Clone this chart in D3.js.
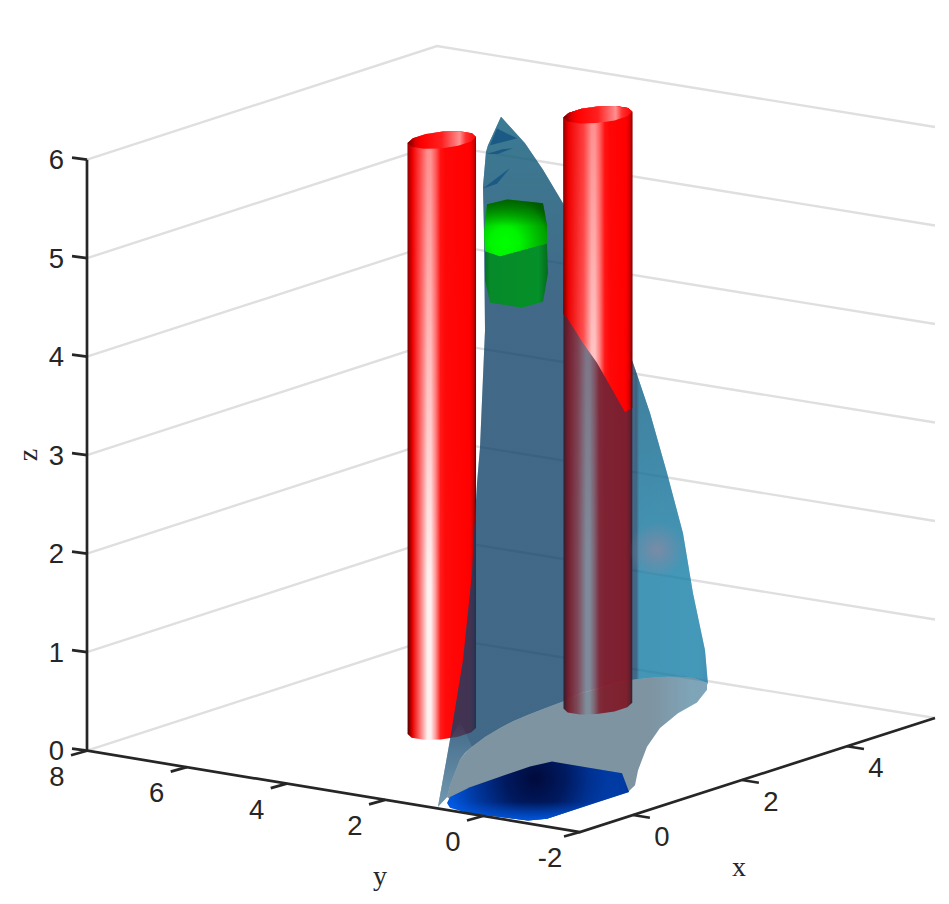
<!DOCTYPE html>
<html><head><meta charset="utf-8">
<style>html,body{margin:0;padding:0;background:#fff}svg{display:block}
.tick{font-family:"Liberation Sans",Arial,sans-serif;font-size:27.5px;fill:#262626}
.lab{font-family:"Liberation Serif","Times New Roman",serif;font-size:28px;fill:#262626}</style>
<script src="https://cdn.jsdelivr.net/npm/d3@7"></script>
</head><body><svg id="chart" width="949" height="904"></svg>
<script>
// ---- axes ----
const xTicks = [0, 2, 4];
const yTicks = [8, 6, 4, 2, 0, -2];
const zTicks = [0, 1, 2, 3, 4, 5, 6];
// ---- cylinders: axis position, radius, height ----
const cylinderX = [2, 4];
const cylinderY = [4.1, 3.06];
const cylinderRadius = [0.47, 0.48];
const cylinderZ = [0, 6];
// ---- isosurface silhouette, read as (h, z) on a view plane facing the camera ----
const hornRightH = [8.28,8.76,9.12,9.52,10.26,10.92,11.26,11.60,11.92,12.12,12.36,12.42];
const hornRightZ = [6.44,6.17,5.90,5.56,4.78,3.94,3.43,2.82,2.21,1.60,1.02,0.67];
const hornBottomH = [12.40,12.20,11.82,11.46,11.20,11.02,10.96,10.82,9.20,8.82,7.60,7.02];
const hornBottomZ = [0.62,0.49,0.38,0.23,0.04,-0.20,-0.35,-0.42,-0.69,-0.71,-0.63,-0.57];
const hornLeftH = [7.26,7.52,7.70,7.80,7.86,7.90,7.96,7.94,7.92,7.98,8.02];
const hornLeftZ = [0.11,0.92,1.80,2.72,3.08,3.56,4.27,5.26,5.73,6.08,6.15];
const rimH = [12.40,12.12,11.86,11.60,11.26,10.92,10.58,10.26,9.86,9.52,9.16,8.80,8.52,8.26,7.96,7.70,7.56,7.46,7.36,7.26,7.20];
const rimZ = [0.69,0.74,0.75,0.75,0.74,0.72,0.69,0.64,0.58,0.50,0.43,0.36,0.30,0.23,0.14,0.04,-0.02,-0.09,-0.22,-0.35,-0.47];
// lighter sliver between silhouette and rim, near the lower tip
const sliverH = [7.02,7.26,7.46,7.70,7.46,7.36,7.26,7.20];
const sliverZ = [-0.57,0.11,0.30,0.04,-0.09,-0.22,-0.35,-0.47];
// dark creases near the tip
const creaseH = [[8.20,8.06,8.60],[8.00,8.30,8.52,8.22],[7.92,8.46,8.20]];
const creaseZ = [[6.32,6.15,6.22],[6.06,6.11,6.12,6.06],[5.71,5.92,5.76]];
// green blob
const greenTopH = [8.00,8.40,9.12,9.20,9.20,8.26,7.96,7.94];
const greenTopZ = [5.55,5.60,5.56,5.34,5.15,5.02,5.07,5.26];
const greenLowH = [7.96,8.26,9.20,9.22,9.12,8.70,8.06,7.96];
const greenLowZ = [5.07,5.02,5.15,4.85,4.56,4.50,4.55,4.78];
// blue blob
const blueH = [7.20,7.26,7.66,8.86,9.30,10.70,10.84,9.20,8.82,7.60,7.26];
const blueZ = [-0.53,-0.47,-0.37,-0.16,-0.11,-0.23,-0.42,-0.69,-0.71,-0.63,-0.58];
// where the second cylinder pierces the surface
const pierceH = [9.46,11.06,11.06,10.92,10.76,10.20,9.92,9.60,9.46];
const pierceZ = [6.61,6.61,3.48,3.48,3.44,3.94,4.14,4.40,4.46];

// ---- scales ----
const scaleU = d3.scaleLinear().domain([-1,0,2,4,5.7]).range([0,0.149,0.456,0.752,1]);
const scaleV = d3.scaleLinear().domain([8,6,4,2,0,-2]).range([0,0.2023,0.4051,0.6045,0.8032,1]);
const scaleZ = d3.scaleLinear().domain([0,6]).range([0,591]);
const scaleH = d3.scaleLinear().domain([0,10]).range([87,587]);
const viewZ = d3.scaleLinear().domain([0,6]).range([750.7,750.7-590.7]);
const cA=[87,750.7], cB=[580,832], cC=[935,718], cD=[437,637];
function project(x,y,z){
  const u=scaleU(x), v=scaleV(y);
  const f=i=>(1-u)*(1-v)*cA[i]+(1-u)*v*cB[i]+u*v*cC[i]+u*(1-v)*cD[i];
  return [f(0), f(1)-scaleZ(z)];
}
const svg=d3.select('#chart');
const defs=svg.append('defs');
const path=d3.line().curve(d3.curveLinearClosed);
const poly=(H,Z)=>H.map((h,i)=>[scaleH(h),viewZ(Z[i])]);
function grad(id,x1,x2,stops,y1,y2){
  const g=defs.append('linearGradient').attr('id',id).attr('gradientUnits','userSpaceOnUse')
   .attr('x1',x1).attr('x2',x2).attr('y1',y1||0).attr('y2',y2||0);
  stops.forEach(s=>g.append('stop').attr('offset',s[0]).attr('stop-color',s[1]).attr('stop-opacity',s[2]===undefined?1:s[2]));
  return `url(#${id})`;
}
function rgrad(id,cx,cy,r,stops){
  const g=defs.append('radialGradient').attr('id',id).attr('gradientUnits','userSpaceOnUse')
   .attr('cx',cx).attr('cy',cy).attr('r',r);
  stops.forEach(s=>g.append('stop').attr('offset',s[0]).attr('stop-color',s[1]).attr('stop-opacity',s[2]===undefined?1:s[2]));
  return `url(#${id})`;
}
// ---- grid ----
const gGrid=svg.append('g').attr('fill','none').attr('stroke','#dfdfdf').attr('stroke-width',2.4);
zTicks.forEach(z=>{
  gGrid.append('path').attr('d',d3.line()([project(-1,8,z),project(5.7,8,z),project(5.7,-2,z)]));
});
// ---- cylinders ----
const thetas=d3.range(0,2*Math.PI-1e-6,2*Math.PI/12).map(t=>t+0.26);
function cylinder(i,s,tag){
  const cx=cylinderX[i], cy=cylinderY[i], r=cylinderRadius[i];
  const ring=z=>thetas.map(t=>project(cx+r*Math.cos(t),cy+r*Math.sin(t),z));
  const top=ring(cylinderZ[1]), bot=ring(cylinderZ[0]);
  const hull=d3.polygonHull(top.concat(bot));
  const ext=d3.extent(hull,p=>p[0]);
  const body=grad('cyl'+tag,ext[0],ext[1],[[0,'#500000'],[0.07,'#e60000'],[s-0.15,'#ff6464'],[s-0.03,'#fff0f0'],[s+0.02,'#fff0f0'],[s+0.09,'#ff9696'],[s+0.16,'#ff1e1e'],[s+0.23,'#ff0a0a'],[0.91,'#ff0000'],[0.96,'#c80000'],[1,'#5a0000']]);
  const fade=grad('fade'+tag,0,0,[[0,'#ff0000',0.42],[0.75,'#ff0000',0]],d3.min(top,p=>p[1]),d3.max(bot,p=>p[1]));
  const cap=grad('cap'+tag,ext[0],ext[1],[[0,'#6e0000'],[0.12,'#e00000'],[0.2,'#ff0000'],[0.5,'#ff2020'],[0.76,'#ff9090'],[0.85,'#ff3030'],[1,'#ff0000']]);
  return {hull,top,body,fade,cap};
}
function drawCyl(g,c){
  g.append('path').attr('d',path(c.hull)).attr('fill',c.body);
  g.append('path').attr('d',path(c.hull)).attr('fill',c.fade);
  g.append('path').attr('d',path(d3.polygonHull(c.top))).attr('fill',c.cap);
}
drawCyl(svg.append('g'),cylinder(0,0.32,'a'));
// ---- isosurface ----
const upperPts=poly(hornRightH,hornRightZ).concat(poly(rimH,rimZ)).concat(poly(hornBottomH.slice(-1),hornBottomZ.slice(-1))).concat(poly(hornLeftH,hornLeftZ));
const greyPts=poly(rimH,rimZ).reverse().concat(poly(hornBottomH,hornBottomZ).slice(0,11));
svg.append('path').attr('d',path(upperPts)).attr('fill','rgb(0,89,143)').attr('fill-opacity',0.53);
drawCyl(svg.append('g'),cylinder(1,0.36,'b'));
const fU=grad('frontU',scaleH(7),scaleH(12.5),[
  [0,'rgb(20,55,85)'],[0.725,'rgb(20,55,85)'],[0.735,'rgb(25,135,170)'],[0.95,'rgb(25,140,175)'],[1,'rgb(25,120,170)']]);
const fG=grad('frontG',scaleH(7),scaleH(12.5),[
  [0,'rgb(20,60,85)'],[0.78,'rgb(20,60,85)'],[0.92,'rgb(20,90,125)'],[1,'rgb(25,90,130)']]);
svg.append('path').attr('d',path(upperPts)).attr('fill',fU).attr('fill-opacity',0.55);
svg.append('path').attr('d',path(greyPts)).attr('fill',fG).attr('fill-opacity',0.55);
// lighter sliver at the lower tip
svg.append('path').attr('d',path(poly(sliverH,sliverZ)))
  .attr('fill',grad('sliver',0,0,[[0,'#bfe0f0',0],[1,'#bfe0f0',0.4]],viewZ(0.3),viewZ(-0.57)));
// teal brightening toward the tip
svg.append('path').attr('d',path(upperPts))
  .attr('fill',grad('tipGlow',0,0,[[0,'rgb(50,150,165)',0.4],[1,'rgb(50,150,165)',0]],viewZ(6.44),viewZ(4.6)));
// the right flank darkens toward its top
defs.append('clipPath').attr('id','flank').append('rect').attr('x',scaleH(10.96)).attr('y',viewZ(6)).attr('width',200).attr('height',viewZ(0)-viewZ(6));
svg.append('path').attr('d',path(upperPts)).attr('clip-path','url(#flank)')
  .attr('fill',grad('flankDark',0,0,[[0,'rgb(55,85,110)',0.35],[1,'rgb(55,85,110)',0]],viewZ(3.9),viewZ(1.8)));
// bright spot
svg.append('circle').attr('cx',scaleH(11.4)).attr('cy',viewZ(2.04)).attr('r',28)
  .attr('fill',rgrad('spot',scaleH(11.4),viewZ(2.04),28,[[0,'rgb(145,135,160)',0.7],[1,'rgb(145,135,160)',0]]));
// creases
creaseH.forEach((H,i)=>svg.append('path').attr('d',path(poly(H,creaseZ[i]))).attr('fill','#1b5a85'));
// green blob
const gcx=scaleH(8.36), gcy=viewZ(5.16);
svg.append('path').attr('d',path(poly(greenTopH,greenTopZ)))
  .attr('fill',rgrad('gt',gcx,gcy,58,[[0,'#00ff00'],[0.25,'#00f500'],[0.5,'#00c800'],[0.72,'#00a000'],[0.85,'#006800'],[1,'#005000']]));
svg.append('path').attr('d',path(poly(greenTopH,greenTopZ)))
  .attr('fill',grad('gtTop',0,0,[[0,'#005800',0.85],[1,'#005800',0]],viewZ(5.6),viewZ(5.33)));
svg.append('path').attr('d',path(poly(greenLowH,greenLowZ)))
  .attr('fill',grad('gl',scaleH(7.94),scaleH(9.22),[[0,'#056b22'],[0.1,'#068a2a'],[0.85,'#059028'],[1,'#046a1e']]));
// blue blob
const bluePts=poly(blueH,blueZ);
svg.append('path').attr('d',path(bluePts))
  .attr('fill',rgrad('bl',scaleH(8.96),viewZ(-0.28),88,[[0,'#000a3c'],[0.35,'#001a60'],[0.7,'#0038a0'],[1,'#0058e0']]));
svg.append('path').attr('d',path(bluePts))
  .attr('fill',grad('blR',scaleH(10.0),scaleH(10.9),[[0,'#001a60',0],[1,'#001a60',0.6]]));
svg.append('path').attr('d',path(bluePts))
  .attr('fill',grad('blB',0,0,[[0,'#0060f0',0],[1,'#0060f0',0.85]],viewZ(-0.52),viewZ(-0.71)));
// front part of second cylinder, above the piercing line
defs.append('clipPath').attr('id','pierce').append('path').attr('d',path(poly(pierceH,pierceZ)));
drawCyl(svg.append('g').attr('clip-path','url(#pierce)'),cylinder(1,0.44,'c'));
// ---- axes ----
const ax=svg.append('g').attr('fill','none').attr('stroke','#262626').attr('stroke-width',2.7);
ax.append('path').attr('d',d3.line()([project(-1,8,6),project(-1,8,0),project(-1,-2,0),project(5.7,-2,0)]));
const off=(p,dx,dy)=>d3.line()([p,[p[0]+dx,p[1]+dy]]);
zTicks.forEach(z=>ax.append('path').attr('d',off(project(-1,8,z),-15,-2)));
yTicks.forEach(y=>ax.append('path').attr('d',off(project(-1,y,0),-16,4.5)));
xTicks.forEach(x=>ax.append('path').attr('d',off(project(x,-2,0),17,2.7)));
const txt=svg.append('g');
zTicks.forEach(z=>{const p=project(-1,8,z);
  txt.append('text').attr('class','tick').attr('x',p[0]-23).attr('y',p[1]+9.5).attr('text-anchor','end').text(z);});
yTicks.forEach(y=>{const p=project(-1,y,0);
  txt.append('text').attr('class','tick').attr('x',p[0]-30).attr('y',p[1]+35).attr('text-anchor','middle').text(y);});
xTicks.forEach(x=>{const p=project(x,-2,0);
  txt.append('text').attr('class','tick').attr('x',p[0]+29).attr('y',p[1]+31).attr('text-anchor','middle').text(x);});
txt.append('text').attr('class','lab').attr('x',739).attr('y',876).attr('text-anchor','middle').text('x');
txt.append('text').attr('class','lab').attr('x',380).attr('y',885).attr('text-anchor','middle').text('y');
txt.append('text').attr('class','lab').attr('transform','translate(37,455) rotate(-90)').attr('text-anchor','middle').text('z');
</script></body></html>
